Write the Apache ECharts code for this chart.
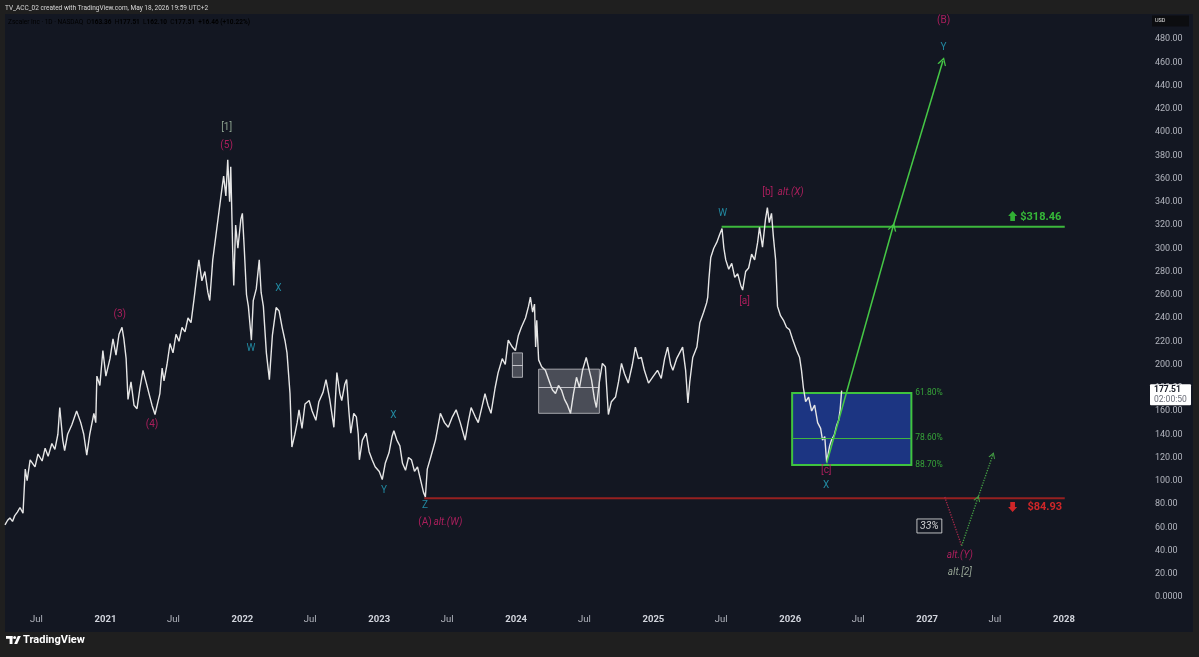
<!DOCTYPE html>
<html>
<head>
<meta charset="utf-8">
<script src="https://cdn.jsdelivr.net/npm/echarts@6/dist/echarts.min.js"></script>
<style>
html,body{margin:0;padding:0;background:#1f1f1f;}
#c{width:1199px;height:657px;}
</style>
</head>
<body>
<div id="c"></div>
<script>
// ---------------- DATA ----------------
const priceSeries = [
['2020-04-08',62],['2020-04-15',66],['2020-04-21',68],['2020-04-28',65],['2020-05-04',70],['2020-05-11',73],['2020-05-18',77],['2020-05-26',72],
['2020-06-01',110],['2020-06-06',100],['2020-06-14',118],['2020-06-27',112],['2020-07-05',123],['2020-07-16',117],['2020-07-24',128],['2020-08-01',121],
['2020-08-11',132],['2020-08-19',127],['2020-08-27',140],['2020-09-01',163],['2020-09-09',135],['2020-09-14',126],['2020-09-22',140],['2020-10-03',148],
['2020-10-16',160],['2020-10-27',150],['2020-11-04',140],['2020-11-12',122],['2020-11-20',140],['2020-12-01',158],['2020-12-06',150],['2020-12-09',190],
['2020-12-17',182],['2020-12-25',212],['2021-01-02',190],['2021-01-13',205],['2021-01-21',222],['2021-01-29',208],['2021-02-06',226],['2021-02-14',232],
['2021-02-19',222],['2021-02-25',205],['2021-03-02',170],['2021-03-10',185],['2021-03-18',165],['2021-03-26',162],['2021-04-03',180],['2021-04-11',195],
['2021-04-19',185],['2021-04-27',175],['2021-05-05',165],['2021-05-13',157],['2021-05-21',168],['2021-05-26',175],['2021-06-01',197],['2021-06-06',186],
['2021-06-14',200],['2021-06-22',218],['2021-06-30',210],['2021-07-08',226],['2021-07-16',220],['2021-07-24',232],['2021-08-01',228],['2021-08-09',240],
['2021-08-17',236],['2021-08-25',256],['2021-09-01',275],['2021-09-07',290],['2021-09-15',272],['2021-09-23',280],['2021-10-01',262],['2021-10-06',255],
['2021-10-14',290],['2021-10-22',310],['2021-10-30',330],['2021-11-07',350],['2021-11-12',362],['2021-11-18',345],['2021-11-23',376],['2021-11-28',340],
['2021-12-01',370],['2021-12-06',300],['2021-12-09',268],['2021-12-14',320],['2021-12-20',300],['2021-12-28',325],['2022-01-01',330],['2022-01-06',300],
['2022-01-12',260],['2022-01-17',250],['2022-01-25',221],['2022-01-30',255],['2022-02-07',265],['2022-02-15',290],['2022-02-20',262],['2022-02-26',250],
['2022-03-06',210],['2022-03-14',187],['2022-03-22',225],['2022-04-01',249],['2022-04-09',246],['2022-04-17',232],['2022-04-25',220],['2022-04-30',210],
['2022-05-08',175],['2022-05-13',129],['2022-05-21',140],['2022-05-27',150],['2022-06-01',161],['2022-06-09',145],['2022-06-17',166],['2022-06-28',169],
['2022-07-06',160],['2022-07-16',152],['2022-07-24',168],['2022-08-04',176],['2022-08-12',187],['2022-08-22',170],['2022-09-02',146],['2022-09-10',193],
['2022-09-18',175],['2022-09-23',169],['2022-10-01',183],['2022-10-06',187],['2022-10-12',160],['2022-10-17',141],['2022-10-25',158],['2022-11-01',155],
['2022-11-06',140],['2022-11-09',118],['2022-11-17',135],['2022-11-27',141],['2022-12-05',125],['2022-12-13',118],['2022-12-21',112],['2023-01-01',108],
['2023-01-09',101],['2023-01-17',115],['2023-01-27',124],['2023-02-04',138],['2023-02-09',143],['2023-02-17',135],['2023-02-25',130],['2023-03-04',115],
['2023-03-12',109],['2023-03-20',120],['2023-03-28',118],['2023-04-05',108],['2023-04-13',112],['2023-04-21',101],['2023-04-29',90],['2023-05-04',86],
['2023-05-09',110],['2023-05-18',120],['2023-05-31',135],['2023-06-13',158],['2023-06-24',150],['2023-07-04',146],['2023-07-15',155],['2023-07-25',161],
['2023-08-05',150],['2023-08-18',135],['2023-08-26',150],['2023-09-03',163],['2023-09-14',155],['2023-09-22',150],['2023-10-03',165],['2023-10-10',175],
['2023-10-18',165],['2023-10-26',158],['2023-11-06',180],['2023-11-14',193],['2023-11-25',205],['2023-12-03',200],['2023-12-11',221],['2023-12-22',215],
['2023-12-30',212],['2024-01-07',225],['2024-01-15',232],['2024-01-26',240],['2024-02-03',250],['2024-02-08',258],['2024-02-14',245],['2024-02-19',252],
['2024-02-22',215],['2024-02-25',238],['2024-03-01',204],['2024-03-09',198],['2024-03-19',195],['2024-03-30',185],['2024-04-07',178],['2024-04-15',175],
['2024-04-23',182],['2024-05-01',178],['2024-05-09',170],['2024-05-17',165],['2024-05-25',158],['2024-06-02',175],['2024-06-10',189],['2024-06-18',180],
['2024-06-26',195],['2024-07-06',206],['2024-07-14',195],['2024-07-20',187],['2024-07-28',170],['2024-08-02',163],['2024-08-10',185],['2024-08-18',201],
['2024-08-26',198],['2024-09-03',157],['2024-09-11',168],['2024-09-22',172],['2024-09-30',185],['2024-10-08',201],['2024-10-16',192],['2024-10-26',184],
['2024-11-06',200],['2024-11-14',215],['2024-11-22',205],['2024-11-30',206],['2024-12-08',195],['2024-12-19',184],['2025-01-01',190],['2025-01-12',195],
['2025-01-22',188],['2025-01-31',205],['2025-02-08',215],['2025-02-16',200],['2025-02-22',195],['2025-03-04',205],['2025-03-12',210],['2025-03-20',215],
['2025-03-28',195],['2025-04-03',167],['2025-04-08',185],['2025-04-16',206],['2025-04-27',215],['2025-05-05',236],['2025-05-15',245],['2025-05-23',253],
['2025-05-26',258],['2025-05-29',273],['2025-06-03',292],['2025-06-11',300],['2025-06-19',305],['2025-06-27',312],['2025-07-03',317],['2025-07-08',300],
['2025-07-13',290],['2025-07-21',282],['2025-07-29',287],['2025-08-06',275],['2025-08-14',278],['2025-08-22',268],['2025-08-27',264],['2025-09-04',280],
['2025-09-12',283],['2025-09-20',295],['2025-09-28',290],['2025-10-06',305],['2025-10-11',318],['2025-10-19',301],['2025-10-27',325],['2025-11-01',335],
['2025-11-06',322],['2025-11-12',330],['2025-11-17',310],['2025-11-23',290],['2025-11-28',250],['2025-12-06',242],['2025-12-14',238],['2025-12-22',232],
['2025-12-30',230],['2026-01-07',222],['2026-01-18',212],['2026-01-26',206],['2026-01-31',195],['2026-02-05',180],['2026-02-11',168],['2026-02-19',172],
['2026-02-27',160],['2026-03-07',165],['2026-03-15',150],['2026-03-23',145],['2026-03-28',135],['2026-04-03',138],['2026-04-08',116],['2026-04-16',130],
['2026-04-21',135],['2026-04-29',140],['2026-05-05',148],['2026-05-10',152],['2026-05-14',161],['2026-05-18',177.51]
];
const lastClose = 177.51;

const xRange = ['2020-04-08', '2028-08-12'];
const xTickDates = ['2020-07-01','2021-01-01','2021-07-01','2022-01-01','2022-07-01','2023-01-01','2023-07-01','2024-01-01','2024-07-01',
                    '2025-01-01','2025-07-01','2026-01-01','2026-07-01','2027-01-01','2027-07-01','2028-01-01'];
const xTickLabels = ['Jul','2021','Jul','2022','Jul','2023','Jul','2024','Jul','2025','Jul','2026','Jul','2027','Jul','2028'];
const yRange = [0, 500];
const yStep = 20;

const resistanceLevel = 318.46;
const resistanceSpan = ['2025-07-02', '2028-01-03'];
const supportLevel = 84.93;
const supportSpan = ['2023-05-01', '2028-01-03'];

const fibZone = ['2026-01-06', '2026-11-20'];
const fibLevels = [175.5, 136.8, 113.5];
const fibLabels = ['61.80%', '78.60%', '88.70%'];
const fibLabelDate = '2026-11-29';

const grayBoxes = [
  ['2023-12-22', '2024-01-18', 210, 199.6, 189],
  ['2024-03-01', '2024-08-10', 196, 180.6, 158]
];

const projectionUp = [['2026-04-08', 115], ['2026-10-02', 318.46], ['2027-02-12', 461]];
const altPathDown = [['2027-02-17', 86], ['2027-04-03', 44]];
const altPathUp = [['2027-04-03', 44], ['2027-05-16', 84.9], ['2027-06-25', 122]];

const pinkWaveLabels = [
  ['2021-02-08', 243.4, '(3)'], ['2021-05-05', 148.8, '(4)'], ['2021-11-20', 388, '(5)'],
  ['2023-05-03', 63.7, '(A)'], ['2025-09-01', 254, '[a]'], ['2025-11-02', 347.8, '[b]'],
  ['2026-04-07', 109.2, '[c]'], ['2027-02-14', 496.3, '(B)']
];
const pinkAltLabels = [
  ['2023-07-03', 63.7, 'alt.(W)'], ['2026-01-02', 347.8, 'alt.(X)'], ['2027-03-29', 35.3, 'alt.(Y)']
];
const cyanWaveLabels = [
  ['2022-01-24', 214, 'W'], ['2022-04-07', 265.5, 'X'], ['2023-01-14', 92, 'Y'], ['2023-02-08', 156.3, 'X'],
  ['2023-05-03', 78.3, 'Z'], ['2025-07-05', 330, 'W'], ['2026-04-07', 96.1, 'X'], ['2027-02-14', 473.1, 'Y']
];
const cycleLabels = [['2021-11-20', 404, '[1]']];
const altCycleLabels = [['2027-03-29', 21.5, 'alt.[2]']];
const probabilityLabels = [['2027-01-07', 61.1, '33%']];
const levelLabels = [['2027-09-05', 326.9, '$318.46'], ['2027-09-24', 77.4, '$84.93']];
const levelIcons = [['2027-08-17', 327.7], ['2027-08-17', 77.4]];

const headerText = 'TV_ACC_02 created with TradingView.com, May 18, 2026 19:59 UTC+2';
const symbolText = ['Zscaler Inc · 1D · NASDAQ', 'O', '163.36', 'H', '177.51', 'L', '162.10', 'C', '177.51', '+16.46 (+10.22%)'];
const countdownText = '02:00:50';

// ---------------- CHART ----------------
const FONT = 'Roboto, "Noto Sans", sans-serif';
const PINK = '#d0206a';
const CYAN = '#25a5c0';
const GREEN = '#3fc43f';
const CHEVRON = 'path://M0,10 L5,0 L10,10 L8.4,10 L5,3.2 L1.6,10 Z';
const BLOCK_ARROW = 'path://M5,0 L10,5.5 L7.6,5.5 L7.6,11 L2.4,11 L2.4,5.5 L0,5.5 Z';

function tparse(s) {
  if (echarts.time && echarts.time.parse) return echarts.time.parse(s).getTime();
  return new Date(s + 'T00:00:00').getTime();
}
const tickTs = xTickDates.map(tparse);

function textSeries(items, color, extra) {
  return {
    type: 'scatter', z: 10, silent: true, clip: false, animation: false,
    symbolSize: 1, itemStyle: {color: 'rgba(0,0,0,0)'},
    data: items,
    label: Object.assign({
      show: true, position: 'inside', color: color, fontSize: 10, fontFamily: FONT,
      formatter: p => p.data[2]
    }, extra || {})
  };
}

const chart = echarts.init(document.getElementById('c'), null, {renderer: 'canvas', width: 1199, height: 657});

const zoneAreas = [
  [{coord: [fibZone[0], fibLevels[0]], itemStyle: {color: '#1c3582', borderColor: GREEN, borderWidth: 2}},
   {coord: [fibZone[1], fibLevels[2]]}]
].concat(grayBoxes.map(b => [
  {coord: [b[0], b[2]], itemStyle: {color: 'rgba(150,153,162,0.42)', borderColor: 'rgba(215,215,220,0.7)', borderWidth: 1}},
  {coord: [b[1], b[4]]}
]));
const zoneLines = [
  [{coord: [fibZone[0], fibLevels[1]], lineStyle: {color: '#3fb43f', width: 1, type: 'solid'}}, {coord: [fibZone[1], fibLevels[1]]}]
].concat(grayBoxes.map(b => [
  {coord: [b[0], b[3]], lineStyle: {color: 'rgba(225,225,230,0.8)', width: 1, type: 'solid'}}, {coord: [b[1], b[3]]}
]));

const option = {
  backgroundColor: '#1f1f1f',
  animation: false,
  grid: {left: 5, right: 51, top: 15.75, bottom: 60, containLabel: false},
  xAxis: [
    {
      type: 'time', min: xRange[0], max: xRange[1],
      axisLine: {show: false}, axisTick: {show: false}, splitLine: {show: false},
      axisLabel: {show: false}
    },
    {
      // tick-label axis on the same time span, expressed as timestamps
      type: 'value', position: 'bottom', min: tparse(xRange[0]), max: tparse(xRange[1]),
      axisLine: {show: false}, axisTick: {show: false}, splitLine: {show: false},
      axisLabel: {
        customValues: tickTs,
        showMinLabel: true, showMaxLabel: true, hideOverlap: false,
        margin: 18,
        formatter: function (v) {
          const i = tickTs.indexOf(v);
          const t = i >= 0 ? xTickLabels[i] : '';
          return t === 'Jul' ? '{m|' + t + '}' : '{y|' + t + '}';
        },
        rich: {
          y: {fontWeight: 'bold', color: '#d1d4dc', fontSize: 9.5, fontFamily: FONT},
          m: {color: '#b2b5be', fontSize: 9.5, fontFamily: FONT}
        }
      }
    }
  ],
  yAxis: {
    type: 'value', position: 'right', min: yRange[0], max: yRange[1], interval: yStep,
    axisLine: {show: false}, axisTick: {show: false}, splitLine: {show: false},
    axisLabel: {
      showMaxLabel: false, margin: 7, align: 'left', color: '#b2b5be', fontSize: 9, fontFamily: FONT,
      formatter: v => v >= yRange[1] ? '' : (v === 0 ? '0.0000' : v.toFixed(2))
    }
  },
  series: [
    {
      type: 'line', data: [], z: 1, silent: true,
      markArea: {silent: true, data: zoneAreas},
      markLine: {silent: true, symbol: 'none', label: {show: false}, data: zoneLines}
    },
    {
      type: 'line', data: [[resistanceSpan[0], resistanceLevel], [resistanceSpan[1], resistanceLevel]],
      z: 2, silent: true, showSymbol: false, symbol: 'none',
      lineStyle: {color: '#3db83d', width: 2}
    },
    {
      type: 'line', data: [[supportSpan[0], supportLevel], [supportSpan[1], supportLevel]],
      z: 2, silent: true, showSymbol: false, symbol: 'none',
      lineStyle: {color: '#962020', width: 2}
    },
    {
      type: 'line', data: priceSeries, z: 3, silent: true, showSymbol: false, symbol: 'none',
      lineStyle: {color: '#e6e6e6', width: 1.4}
    },
    {
      type: 'line', data: [], z: 4, silent: true,
      markLine: {
        silent: true, symbol: ['none', CHEVRON], symbolSize: [9, 8], label: {show: false},
        lineStyle: {color: '#46c846', width: 1.5, type: 'solid'},
        data: [[{coord: projectionUp[0]}, {coord: projectionUp[1]}], [{coord: projectionUp[1]}, {coord: projectionUp[2]}]]
      }
    },
    {
      type: 'line', data: [], z: 4, silent: true,
      markLine: {
        silent: true, symbol: 'none', label: {show: false},
        lineStyle: {color: '#a8294a', width: 1.3, type: 'dotted'},
        data: [[{coord: altPathDown[0]}, {coord: altPathDown[1]}]]
      }
    },
    {
      type: 'line', data: [], z: 4, silent: true,
      markLine: {
        silent: true, symbol: ['none', CHEVRON], symbolSize: [7, 6], label: {show: false},
        lineStyle: {color: '#45a045', width: 1.3, type: 'dotted'},
        data: [[{coord: altPathUp[0]}, {coord: altPathUp[1]}], [{coord: altPathUp[1]}, {coord: altPathUp[2]}]]
      }
    },
    {
      type: 'scatter', z: 10, silent: true, clip: false,
      data: [{value: levelIcons[0], itemStyle: {color: '#39d639'}}, {value: levelIcons[1], symbolRotate: 180, itemStyle: {color: '#ff2a2a'}}],
      symbol: BLOCK_ARROW, symbolSize: [9, 10]
    },
    textSeries(pinkWaveLabels, PINK),
    textSeries(pinkAltLabels, PINK, {fontStyle: 'italic'}),
    textSeries(cyanWaveLabels, CYAN),
    textSeries(cycleLabels, '#a7c0a7'),
    textSeries(altCycleLabels, '#b3c3ae', {fontStyle: 'italic'}),
    textSeries(probabilityLabels, '#ffffff', {fontStyle: 'italic', fontSize: 10.5, borderColor: '#e8e8e8', borderWidth: 1, padding: [2, 3, 1, 3]}),
    textSeries([levelLabels[0]], '#3ee03e', {position: 'right', distance: 0, fontWeight: 'bold', fontSize: 11}),
    textSeries([levelLabels[1]], '#ff2a2a', {position: 'right', distance: 0, fontWeight: 'bold', fontSize: 11}),
    textSeries(fibLevels.map((v, i) => [fibLabelDate, v, fibLabels[i]]), '#3fc43f', {position: 'right', distance: 0, fontSize: 8.5})
  ]
};
chart.setOption(option);

// annotations around the plot (frame, header, price tag)
const tagY = chart.convertToPixel({yAxisIndex: 0}, lastClose);
const rich = {
  l: {color: '#b8bbc4', fontSize: 6.5, fontFamily: FONT},
  v: {color: '#eceef3', fontSize: 6.5, fontFamily: FONT, fontWeight: 'bold'}
};
const symText = '{l|' + symbolText[0] + '  ' + symbolText[1] + '}{v|' + symbolText[2] + '}{l|  ' + symbolText[3] + '}{v|' + symbolText[4] +
  '}{l|  ' + symbolText[5] + '}{v|' + symbolText[6] + '}{l|  ' + symbolText[7] + '}{v|' + symbolText[8] + '}{v|  ' + symbolText[9] + '}';
chart.setOption({
  graphic: {elements: [
    {type: 'rect', z: -10, silent: true, shape: {x: 5, y: 14, width: 1188, height: 618}, style: {fill: '#131722'}},
    {type: 'text', z: 20, silent: true, x: 5, y: 8, style: {text: headerText, fill: '#d8d8d8', font: '6.5px ' + FONT, verticalAlign: 'middle'}},
    {type: 'text', z: 20, silent: true, x: 8, y: 22, style: {text: symText, rich: rich, verticalAlign: 'middle'}},
    {type: 'rect', z: 20, silent: true, shape: {x: 1152, y: 15.5, width: 37, height: 11}, style: {fill: '#0c0d10'}},
    {type: 'text', z: 21, silent: true, x: 1155, y: 21, style: {text: 'USD', fill: '#e0e0e0', font: '5.5px ' + FONT, verticalAlign: 'middle'}},
    {type: 'rect', z: 20, silent: true, shape: {x: 1150, y: tagY - 6.5, width: 41, height: 21, r: 1}, style: {fill: '#ffffff'}},
    {type: 'text', z: 21, silent: true, x: 1154, y: tagY - 0.5, style: {text: String(lastClose), fill: '#131722', font: 'bold 8.5px ' + FONT, verticalAlign: 'middle'}},
    {type: 'text', z: 21, silent: true, x: 1154, y: tagY + 9, style: {text: countdownText, fill: '#6a6d78', font: '8.5px ' + FONT, verticalAlign: 'middle'}},
    {type: 'rect', z: 20, silent: true, shape: {x: 6, y: 636, width: 6.5, height: 2.8}, style: {fill: '#ffffff'}},
    {type: 'rect', z: 20, silent: true, shape: {x: 9.6, y: 636, width: 2.9, height: 8}, style: {fill: '#ffffff'}},
    {type: 'circle', z: 20, silent: true, shape: {cx: 14.6, cy: 637.5, r: 1.5}, style: {fill: '#ffffff'}},
    {type: 'polygon', z: 20, silent: true, shape: {points: [[14.2, 644], [17.8, 636], [20.8, 636], [17.2, 644]]}, style: {fill: '#ffffff'}},
    {type: 'text', z: 20, silent: true, x: 23, y: 640.5, style: {text: 'TradingView', fill: '#ffffff', font: 'bold 11px ' + FONT, verticalAlign: 'middle'}}
  ]}
});
</script>
</body>
</html>
